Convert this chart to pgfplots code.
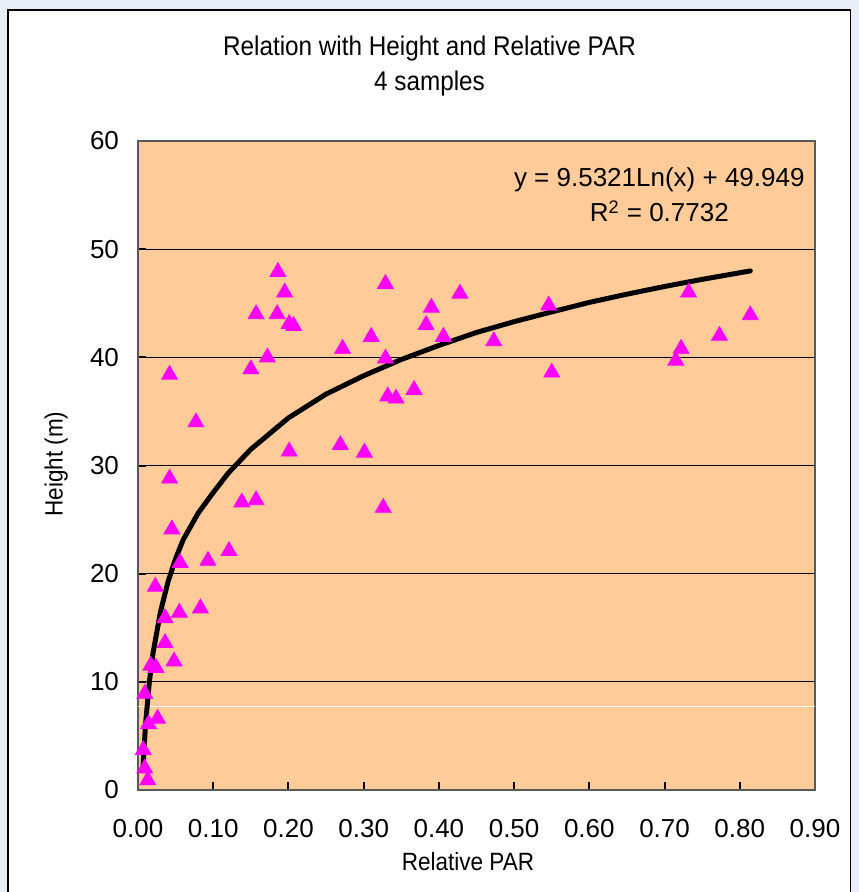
\documentclass[border=0pt]{standalone}
\usepackage{fontspec}
\setmainfont{Liberation Sans}
\newfontfamily\condfont{Liberation Sans}[FakeStretch=0.9]
\usepackage{pgfplots}
\pgfplotsset{compat=1.18}
\definecolor{plotbg}{RGB}{255,204,153}
\definecolor{outerbg}{RGB}{232,238,250}
\definecolor{ptmag}{RGB}{255,0,255}
\begin{document}
\begin{tikzpicture}
  \path[use as bounding box, fill=outerbg] (-69bp,-51bp) rectangle (360.5bp,395bp);
  \filldraw[fill=white, draw=black, line width=0.8bp] (-65bp,-60bp) rectangle (356.3bp,390bp);
  \begin{axis}[
      scale only axis, width=338.5bp, height=324.5bp,
      xmin=0, xmax=0.9, ymin=0, ymax=60,
      xtick={0,0.1,0.2,0.3,0.4,0.5,0.6,0.7,0.8,0.9},
      ytick={0,10,20,30,40,50,60},
      xtick pos=bottom, ytick pos=left,
      /pgf/number format/assume math mode=true,
      xticklabel style={/pgf/number format/.cd, fixed, fixed zerofill, precision=2,
        /tikz/.cd, yshift=-11bp},
      yticklabel style={xshift=-6bp},
      tick label style={font=\fontsize{13bp}{15bp}\selectfont},
      tick align=inside, major tick length=4bp,
      tick style={black, line width=1bp},
      ymajorgrids, grid style={black, line width=0.5bp},
      axis background/.style={fill=plotbg},
      axis line style={draw=gray!70!black, line width=1bp},
      clip=false,
      title={Relation with Height and Relative PAR\\4 samples},
      title style={at={(axis description cs:0.4306,1)}, anchor=center,
        yshift=31.5bp, align=center, font=\condfont\fontsize{13.5bp}{17.8bp}\selectfont},
      xlabel={Relative PAR},
      xlabel style={at={(axis description cs:0.4875,0)}, anchor=center,
        yshift=-36bp, font=\condfont\fontsize{12.5bp}{15bp}\selectfont},
      ylabel={Height (m)},
      ylabel style={at={(axis description cs:-0.121,0.502)}, anchor=center,
        font=\condfont\fontsize{12.5bp}{15bp}\selectfont},
    ]
    % stray white line seen in the original
    \draw[white, line width=0.5bp] (axis cs:0,7.7) -- (axis cs:0.9,7.7);
    % measured points
    \addplot[only marks, mark=triangle*, mark size=4.6pt,
             color=ptmag, fill=ptmag]
      coordinates {
        (0.186,47.9) (0.195,46.0) (0.157,44.0) (0.185,44.0) (0.201,43.1)
        (0.207,42.9) (0.172,40.0) (0.150,38.9) (0.042,38.4) (0.077,34.0)
        (0.201,31.3) (0.042,28.8) (0.138,26.6) (0.157,26.8) (0.045,24.1)
        (0.121,22.1) (0.093,21.2) (0.056,21.0) (0.023,18.8) (0.083,16.8)
        (0.055,16.4) (0.036,15.9) (0.036,13.6) (0.048,11.9) (0.017,11.5)
        (0.024,11.3) (0.009,8.9) (0.026,6.6) (0.014,6.1) (0.007,3.7)
        (0.009,2.0) (0.013,0.9) (0.329,46.8) (0.428,45.9) (0.390,44.6)
        (0.383,43.0) (0.406,41.9) (0.310,41.9) (0.272,40.8) (0.473,41.5)
        (0.329,39.9) (0.546,44.8) (0.550,38.6) (0.367,37.0) (0.332,36.4)
        (0.343,36.2) (0.269,31.9) (0.301,31.2) (0.326,26.1) (0.732,46.0)
        (0.814,43.9) (0.773,42.0) (0.722,40.8) (0.715,39.7)};
    % log trend line
    \addplot[black, line width=2.5bp, line join=round, line cap=round]
      coordinates {
        (0.0064,1.80) (0.01,6.05) (0.015,9.92) (0.02,12.66) (0.03,16.52)
        (0.04,19.27) (0.05,21.39) (0.06,23.13) (0.08,25.6) (0.10,27.5)
        (0.12,29.3) (0.15,31.5) (0.20,34.4) (0.25,36.6) (0.30,38.3)
        (0.35,39.8) (0.40,41.1) (0.45,42.3) (0.50,43.3) (0.55,44.2)
        (0.60,45.08) (0.65,45.84) (0.70,46.55) (0.75,47.21) (0.814,47.99)};
    \node[align=center, font=\fontsize{13bp}{17.5bp}\selectfont]
      at (axis cs:0.693,55.0) {y = 9.5321Ln(x) + 49.949\\R\textsuperscript{2} = 0.7732};
  \end{axis}
\end{tikzpicture}
\end{document}
